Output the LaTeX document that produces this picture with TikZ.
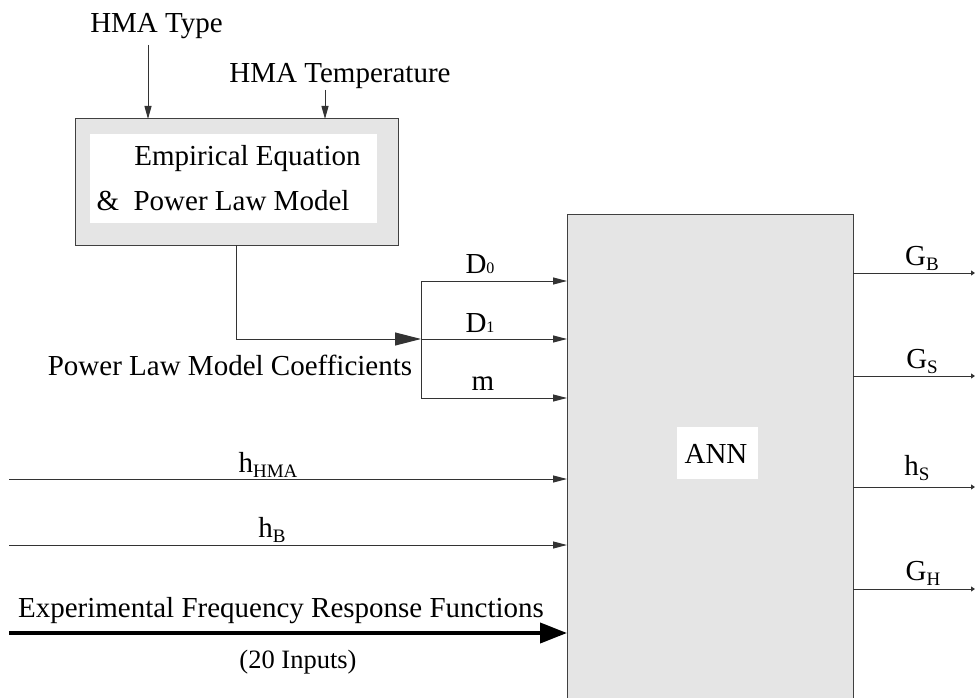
\documentclass[tikz,border=0pt]{standalone}
\usepackage{fontspec}
\setmainfont{Liberation Serif}
\usetikzlibrary{arrows.meta}
\newcommand{\lowsub}[1]{\raisebox{-5pt}{\fontsize{19}{20}\selectfont #1}}
\newcommand{\flatsub}[1]{{\fontsize{16}{17}\selectfont #1}}
\begin{document}
\begin{tikzpicture}[x=1pt,y=-1pt,
  txt/.style={font=\fontsize{29}{33}\selectfont, inner sep=0pt, outer sep=0pt, anchor=base},
  ln/.style={line width=1pt, draw=black!80},
  tip/.style={ln, -{Triangle[length=14pt,width=7pt]}},
  smalltip/.style={ln, -{Triangle[length=13pt,width=7pt]}},
  midtip/.style={ln, -{Triangle[length=26pt,width=13pt]}},
  bigtip/.style={line width=4pt, draw=black, -{Triangle[length=27pt,width=20pt]}},
  outtip/.style={ln, -{Triangle[length=4pt,width=5pt]}},
  panel/.style={draw=black!75, line width=1pt, fill=gray!20, inner sep=0pt, outer sep=0pt}
]
\useasboundingbox (0,0) rectangle (975,698);
\fill[white] (0,0) rectangle (975,698);

% empirical box
\node[panel, minimum width=323pt, minimum height=126pt] (emp) at (236.5,182) {};
\node[fill=white, inner sep=0pt, minimum width=287pt, minimum height=89pt] (empin) at (233.5,178.5) {};
\node[txt] (emp1) at (247.5,166) {Empirical Equation};
\node[txt] (emp2) at (223,211) {\&\ \ Power Law Model};

\node[txt] (type) at (156.5,33) {HMA Type};
\node[txt] (temp) at (340,83) {HMA Temperature};
\coordinate (typeS) at (148,45);
\coordinate (tempS) at (325,90);
\draw[smalltip] (typeS) -- (typeS |- emp.north);
\draw[smalltip] (tempS) -- (tempS |- emp.north);

% ANN box
\node[panel, minimum width=286pt, minimum height=500pt, anchor=north west] (ann) at (567,214) {};
\node[fill=white, inner sep=0pt, minimum width=81pt, minimum height=52pt] (annbg) at (717.5,453) {};
\node[txt] (annl) at (716,463) {ANN};

% coefficients
\coordinate (b0) at (421,281);
\coordinate (b1) at (421,339);
\coordinate (b2) at (421,398);
\coordinate (empout) at (236,245);
\draw[ln] (b0) -- (b2);
\draw[midtip] (empout) |- (b1);
\draw[tip] (b0) -- (b0 -| ann.west);
\draw[tip] (b1) -- (b1 -| ann.west);
\draw[tip] (b2) -- (b2 -| ann.west);
\node[txt] (lD0) at (480,273) {D\flatsub{0}};
\node[txt] (lD1) at (480,332) {D\flatsub{1}};
\node[txt] (lm) at (483,390) {m};
\node[txt] (plmc) at (230,375) {Power Law Model Coefficients};

% other inputs
\coordinate (hs) at (9,479);
\coordinate (bs) at (9,545);
\coordinate (es) at (9,633);
\draw[tip] (hs) -- (hs -| ann.west);
\draw[tip] (bs) -- (bs -| ann.west);
\draw[bigtip] (es) -- (es -| ann.west);
\node[txt] (lh) at (268,472) {h\lowsub{HMA}};
\node[txt] (lb) at (272,537) {h\lowsub{B}};
\node[txt] (le) at (281,617) {Experimental Frequency Response Functions};
\node[txt, font=\fontsize{26.5}{30}\selectfont] (l20) at (298,668) {(20 Inputs)};

% outputs
\coordinate (o1) at (975,273);
\coordinate (o2) at (975,376);
\coordinate (o3) at (975,487);
\coordinate (o4) at (975,589);
\draw[outtip] (o1 -| ann.east) -- (o1);
\draw[outtip] (o2 -| ann.east) -- (o2);
\draw[outtip] (o3 -| ann.east) -- (o3);
\draw[outtip] (o4 -| ann.east) -- (o4);
\node[txt] (lGB) at (922,265) {G\lowsub{B}};
\node[txt] (lGS) at (922,368) {G\lowsub{S}};
\node[txt] (lhS) at (917,475) {h\lowsub{S}};
\node[txt] (lGH) at (923,580) {G\lowsub{H}};
\end{tikzpicture}
\end{document}
